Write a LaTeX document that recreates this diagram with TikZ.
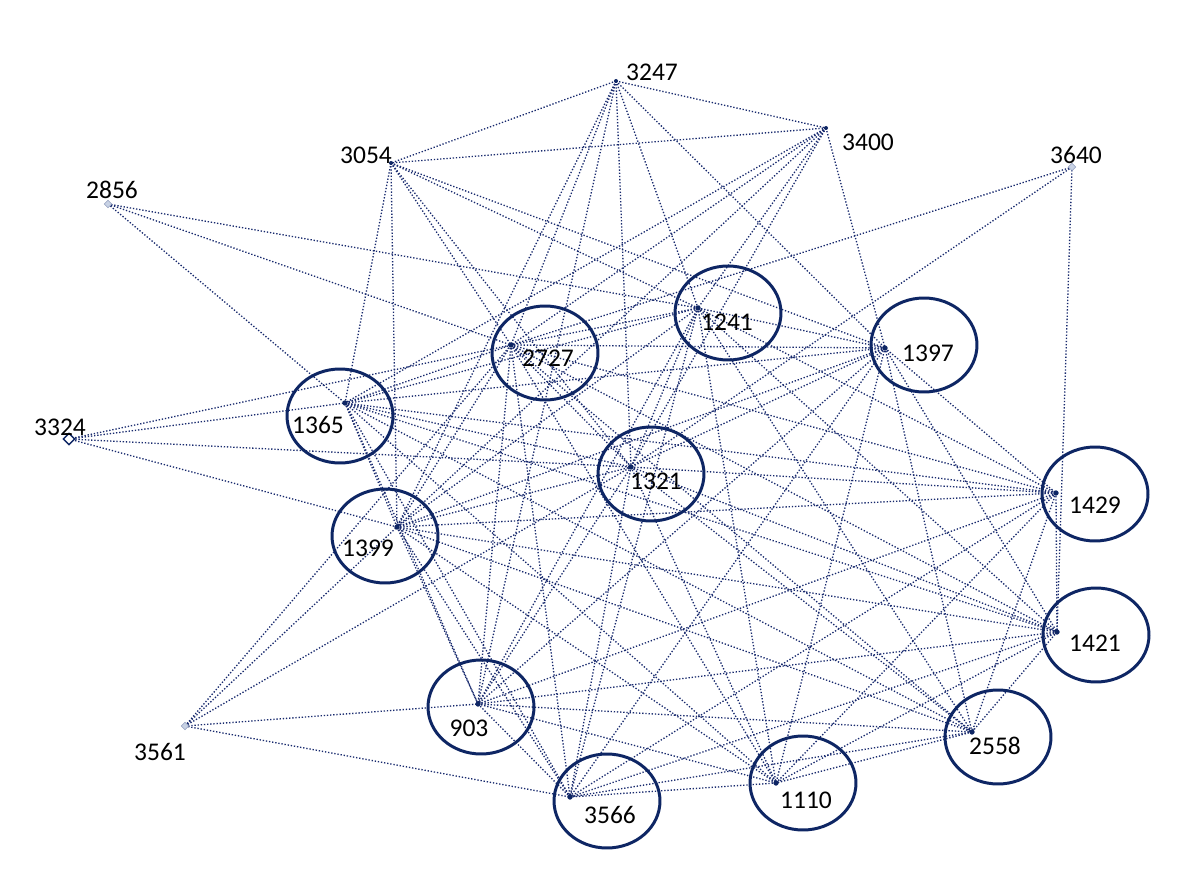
\documentclass[tikz,border=0pt]{standalone}
\usepackage{fontspec}
\setmainfont{Carlito}
\usetikzlibrary{shapes.geometric}
\definecolor{navy}{RGB}{14,38,100}
\definecolor{linkc}{RGB}{24,42,110}
\definecolor{pale}{RGB}{200,210,228}
\begin{document}
\begin{tikzpicture}[x=0.02cm,y=-0.02cm,
  link/.style={draw=linkc,line width=0.75pt,dash pattern=on 0.75pt off 1.05pt},
  ring/.style={draw=navy,line width=1.7pt,ellipse,minimum width=2.12cm,minimum height=1.88cm,inner sep=0pt},
  coredot/.style={circle,fill=navy,draw=navy,line width=0.4pt,inner sep=0pt,minimum size=0.09cm},
  topdot/.style={circle,fill=navy,inner sep=0pt,minimum size=0.08cm},
  palemark/.style={diamond,fill=pale,draw=pale!70!navy,line width=0.3pt,inner sep=0pt,minimum size=0.15cm},
  hollowmark/.style={diamond,fill=white,draw=navy,line width=0.8pt,inner sep=0pt,minimum size=0.24cm},
  lbl/.style={inner sep=0pt,font=\fontsize{14.5}{16}\selectfont,text=black}]
\useasboundingbox (0,0) rectangle (1200,895);
\fill[white] (0,0) rectangle (1200,895);
% positions
\coordinate (p1241) at (698,308);
\coordinate (p2727) at (511,345);
\coordinate (p1397) at (885,348);
\coordinate (p1365) at (345,403);
\coordinate (p1321) at (631,467);
\coordinate (p1399) at (397,527);
\coordinate (p1429) at (1056,493);
\coordinate (p1421) at (1057,632);
\coordinate (p903) at (478,704);
\coordinate (p2558) at (972,732);
\coordinate (p1110) at (776,783);
\coordinate (p3566) at (570,797);
\coordinate (p3247) at (616,81);
\coordinate (p3400) at (826,128);
\coordinate (p3054) at (391,163);
\coordinate (p3640) at (1072,167);
\coordinate (p2856) at (108,204);
\coordinate (p3324) at (69,439);
\coordinate (p3561) at (185,726);
% core clique
\foreach \a [count=\i] in {1241,2727,1397,1365,1321,1399,1429,1421,903,2558,1110,3566}{
  \foreach \b [count=\j] in {1241,2727,1397,1365,1321,1399,1429,1421,903,2558,1110,3566}{
    \ifnum\j>\i \draw[link] (p\a) -- (p\b); \fi
  }
}
% peripheral connectors
\foreach \a/\b in {3247/3054,3247/3400,3247/1399,3247/2727,3247/903,3247/1321,3247/1241,3247/1397,
  3400/3054,3400/1365,3400/2727,3400/1399,3400/1241,3400/1321,3400/1397,
  3054/1397,3054/1241,3054/2727,3054/1321,3054/1399,3054/1365,
  3640/2727,3640/1321,3640/1421,
  2856/1365,2856/2727,2856/1241,
  3324/2727,3324/1365,3324/1321,3324/1399,
  3561/2727,3561/1399,3561/1321,3561/903,3561/3566}
  \draw[link] (p\a) -- (p\b);
% circles
\node[ring] (c1241) at (728,313) {};
\node[ring] (c2727) at (545,353) {};
\node[ring] (c1397) at (924,345) {};
\node[ring] (c1365) at (340,416) {};
\node[ring] (c1321) at (651,474) {};
\node[ring] (c1399) at (385,536) {};
\node[ring] (c1429) at (1095,494) {};
\node[ring] (c1421) at (1096,635) {};
\node[ring] (c903) at (481,707) {};
\node[ring] (c2558) at (998,737) {};
\node[ring] (c1110) at (803,783) {};
\node[ring] (c3566) at (607,801) {};
% dots
\foreach \a in {1241,2727,1397,1365,1321,1399,1429,1421,903,2558,1110,3566}
  \node[coredot] (d\a) at (p\a) {};
\node[topdot] (d3247) at (p3247) {};
\node[topdot] (d3400) at (p3400) {};
\node[topdot] (d3054) at (p3054) {};
\node[palemark] (d3640) at (p3640) {};
\node[palemark] (d2856) at (p2856) {};
\node[palemark] (d3561) at (p3561) {};
\node[hollowmark] (d3324) at (p3324) {};
% labels
\node[lbl] (l3247) at (652,72) {3247};
\node[lbl] (l3400) at (868,142) {3400};
\node[lbl] (l3054) at (366,155) {3054};
\node[lbl] (l3640) at (1076,155) {3640};
\node[lbl] (l2856) at (112,190) {2856};
\node[lbl] (l1241) at (727,322) {1241};
\node[lbl] (l2727) at (548,358) {2727};
\node[lbl] (l1397) at (928,353) {1397};
\node[lbl] (l1365) at (318,425) {1365};
\node[lbl] (l3324) at (60,427) {3324};
\node[lbl] (l1321) at (656,481) {1321};
\node[lbl] (l1399) at (368,548) {1399};
\node[lbl] (l1429) at (1095,505) {1429};
\node[lbl] (l1421) at (1095,643) {1421};
\node[lbl] (l903) at (469,728) {903};
\node[lbl] (l3561) at (160,752) {3561};
\node[lbl] (l2558) at (995,746) {2558};
\node[lbl] (l1110) at (806,800) {1110};
\node[lbl] (l3566) at (610,815) {3566};
\end{tikzpicture}
\end{document}
